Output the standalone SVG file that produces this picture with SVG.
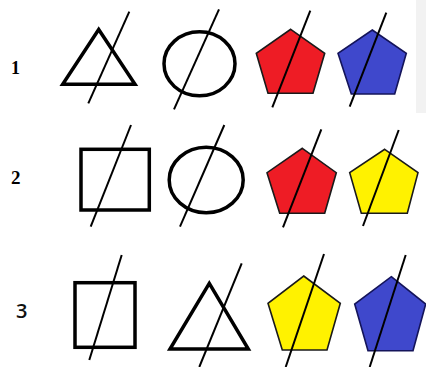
<svg xmlns="http://www.w3.org/2000/svg" width="426" height="367" viewBox="0 0 426 367">
<style>
.sh{fill:none;stroke:#000;stroke-width:3.5}
.pent{stroke:#1a1a1a;stroke-width:1.6;stroke-linejoin:miter}
.red{fill:#ee1c25}
.blue{fill:#3f48cc;stroke:#14145a}
.yel{fill:#fff200}
.cut{stroke:#000;stroke-width:2;fill:none}
.lbl{font-family:"Liberation Serif",serif;font-weight:bold;fill:#000}
</style>
<rect width="426" height="367" fill="#fff"/>
<rect x="416" y="0" width="10" height="113" fill="#f2f2f2"/>
<g id="labels">
<text class="lbl" x="11" y="74" font-size="18">1</text>
<text class="lbl" x="11" y="184" font-size="19">2</text>
<text x="16" y="318" font-size="20" font-family="'Open Sans',sans-serif" font-weight="600" fill="#111">3</text>
</g>
<g id="r1-triangle"><polygon class="sh" points="98.7,29.5 62.7,84.3 135,84.3"/></g>
<g id="r1-circle"><ellipse class="sh" cx="199.5" cy="63.8" rx="35.5" ry="32"/></g>
<g id="r1-red-pentagon"><polygon class="pent red" points="290.7,29.3 324.7,53.3 313,93.3 268,93.3 256.3,53.3"/></g>
<g id="r1-blue-pentagon"><polygon class="pent blue" points="372.3,30 406.3,53.3 394.7,94 351.3,94 338,53.3"/></g>
<g id="r2-square"><rect class="sh" x="81" y="149.3" width="68.3" height="60.7"/></g>
<g id="r2-circle"><ellipse class="sh" cx="206.2" cy="180" rx="37" ry="32.7"/></g>
<g id="r2-red-pentagon"><polygon class="pent red" points="302.3,148.3 336.3,172.7 324.7,213.3 279.7,213.3 267,172.7"/></g>
<g id="r2-yellow-pentagon"><polygon class="pent yel" points="384.7,149.3 418,172.7 407.3,213.3 361.3,213.3 349.7,172.7"/></g>
<g id="r3-square"><rect class="sh" x="75" y="282.7" width="60" height="64.6"/></g>
<g id="r3-triangle"><polygon class="sh" points="209.3,283.3 170,349 248.3,349"/></g>
<g id="r3-yellow-pentagon"><polygon class="pent yel" points="303.7,276 340.3,303.3 327,350 282.3,350 268,303.3"/></g>
<g id="r3-blue-pentagon"><polygon class="pent blue" points="391.3,276.7 425.7,304 413,350.7 368,350.7 354.7,304"/></g>
<g id="cut-lines">
<line class="cut" x1="129.3" y1="11.7" x2="88.3" y2="103.3"/>
<line class="cut" x1="219" y1="9.3" x2="174" y2="109.3"/>
<line class="cut" x1="310.3" y1="10.7" x2="272.3" y2="107.3"/>
<line class="cut" x1="386.3" y1="12.7" x2="349.7" y2="106.7"/>
<line class="cut" x1="131" y1="125" x2="90.7" y2="226.7"/>
<line class="cut" x1="224.3" y1="125" x2="180" y2="226.7"/>
<line class="cut" x1="321.3" y1="129.3" x2="283" y2="227.3"/>
<line class="cut" x1="398.7" y1="130" x2="363" y2="226"/>
<line class="cut" x1="121.7" y1="255" x2="89.3" y2="360"/>
<line class="cut" x1="241.7" y1="263.3" x2="199.3" y2="367"/>
<line class="cut" x1="324" y1="254" x2="285.7" y2="367"/>
<line class="cut" x1="405.7" y1="255" x2="369.7" y2="367"/>
</g>
</svg>
